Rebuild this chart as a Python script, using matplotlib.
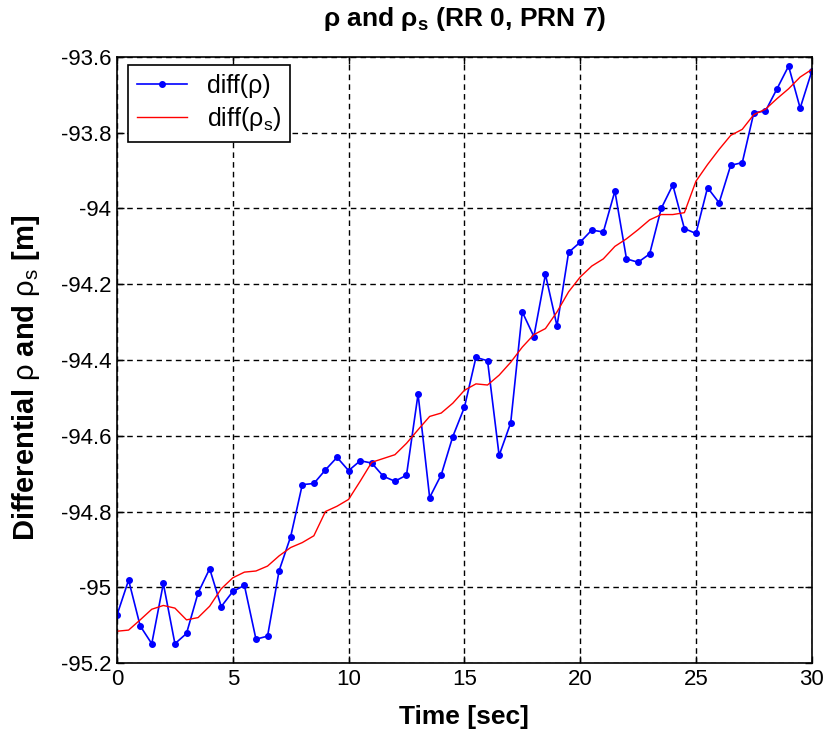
import numpy as np
import matplotlib
matplotlib.use("Agg")
import matplotlib.pyplot as plt

plt.rcParams['font.family'] = ['Liberation Sans', 'DejaVu Sans']
plt.rcParams['mathtext.fontset'] = 'custom'
plt.rcParams['mathtext.rm'] = 'Liberation Sans'
plt.rcParams['mathtext.bf'] = 'Liberation Sans:bold'
plt.rcParams['mathtext.it'] = 'Liberation Sans:italic'
plt.rcParams['mathtext.default'] = 'regular'

time_s = np.arange(0, 30.01, 0.5)

diff_rho = [
    -95.073, -94.981, -95.102, -95.149, -94.990, -95.149, -95.122, -95.015, -94.951, -95.051,
    -95.011, -94.995, -95.137, -95.129, -94.956, -94.866, -94.729, -94.726, -94.690, -94.657,
    -94.692, -94.666, -94.672, -94.707, -94.720, -94.704, -94.490, -94.763, -94.703, -94.602,
    -94.525, -94.393, -94.402, -94.652, -94.566, -94.273, -94.338, -94.174, -94.310, -94.116,
    -94.089, -94.057, -94.062, -93.954, -94.133, -94.142, -94.120, -94.000, -93.938, -94.053,
    -94.066, -93.945, -93.985, -93.886, -93.879, -93.747, -93.743, -93.684, -93.624, -93.735,
    -93.638,
]

diff_rho_s = [
    -95.116, -95.113, -95.086, -95.058, -95.048, -95.055, -95.086, -95.080, -95.050, -95.004,
    -94.975, -94.960, -94.957, -94.944, -94.917, -94.895, -94.882, -94.864, -94.800, -94.786,
    -94.768, -94.720, -94.670, -94.660, -94.650, -94.620, -94.584, -94.549, -94.540, -94.514,
    -94.480, -94.463, -94.466, -94.440, -94.406, -94.366, -94.333, -94.317, -94.273, -94.220,
    -94.181, -94.152, -94.133, -94.100, -94.080, -94.056, -94.030, -94.016, -94.016, -94.011,
    -93.928, -93.884, -93.844, -93.807, -93.791, -93.752, -93.738, -93.710, -93.684, -93.653,
    -93.633,
]

x_ticks = [0, 5, 10, 15, 20, 25, 30]
y_ticks = [-95.2, -95.0, -94.8, -94.6, -94.4, -94.2, -94.0, -93.8, -93.6]
y_tick_labels = ['-95.2', '-95', '-94.8', '-94.6', '-94.4', '-94.2', '-94', '-93.8', '-93.6']

fig = plt.figure(figsize=(8.3, 7.4), dpi=100)
ax = fig.add_axes([0.141, 0.104, 0.837, 0.819])

ax.plot(time_s, diff_rho, '-', color='#0000ff', marker='.', markersize=8, linewidth=1.2,
        label='diff(ρ)')
ax.plot(time_s, diff_rho_s, '-', color='#ff0000', linewidth=1.0,
        label='diff(ρ$_s$)')

ax.set_xlim(0, 30)
ax.set_ylim(-95.2, -93.6)
ax.set_xticks(x_ticks)
ax.set_xticklabels([str(v) for v in x_ticks])
ax.set_yticks(y_ticks)
ax.set_yticklabels(y_tick_labels)
ax.tick_params(direction='in', length=5, labelsize=16, width=1, pad=4,
               top=True, right=True)

ax.grid(True, color='black', linestyle=(0, (4, 3)), linewidth=1.0)
for sp in ax.spines.values():
    sp.set_linewidth(1.2)

ax.set_title('ρ and ρ$_\\mathbf{s}$ (RR 0, PRN 7)', fontsize=19, fontweight='bold', pad=22)
ax.set_xlabel('Time [sec]', fontsize=19, fontweight='bold', labelpad=11)
ax.set_ylabel('Differential $\\mathrm{ρ}$ and $\\mathrm{ρ}_\\mathrm{s}$ [m]',
              fontsize=21, fontweight='bold')
ax.yaxis.set_label_coords(-0.108, 0.47)

leg = ax.legend(loc='upper left', fontsize=18, frameon=True, fancybox=False,
                edgecolor='black', framealpha=1, borderpad=0.35, handlelength=2.0,
                handletextpad=0.8, labelspacing=0.3, borderaxespad=0,
                bbox_to_anchor=(0.016, 0.987))
leg.get_frame().set_linewidth(1.2)

fig.savefig('out.png', dpi=100)
